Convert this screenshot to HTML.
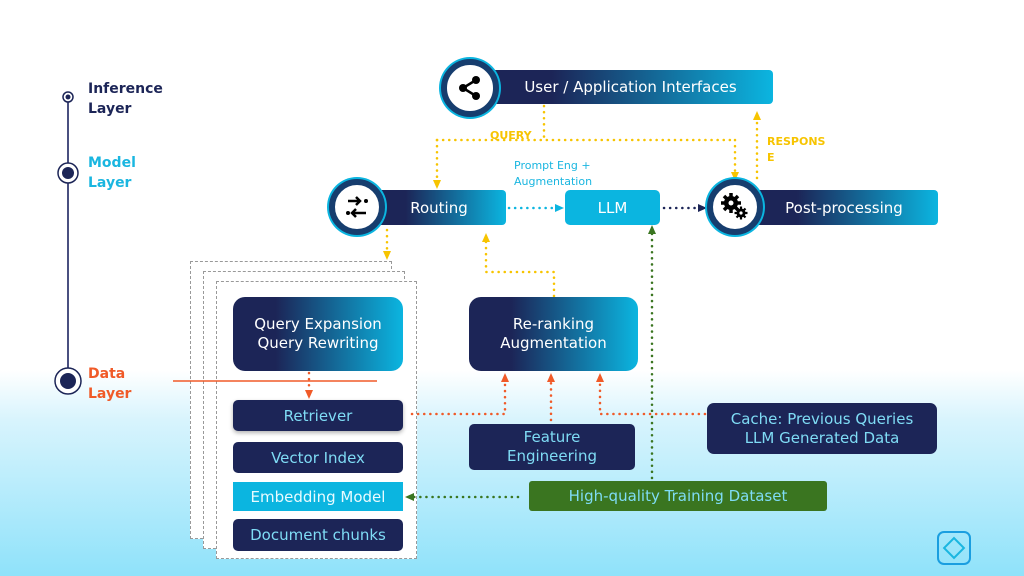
<!DOCTYPE html>
<html><head><meta charset="utf-8"><style>
body{margin:0;width:1024px;height:576px;overflow:hidden;font-family:"DejaVu Sans","Liberation Sans",sans-serif;}
.bg{position:absolute;left:0;top:0;width:1024px;height:576px;background:linear-gradient(to bottom,#fff 0,#fff 370px,#d8f4fd 420px,#8fe2fa 576px);}
.a{position:absolute;box-sizing:border-box;display:flex;align-items:center;justify-content:center;text-align:center;}
.g{background:linear-gradient(to right,#1c2557 0%,#1c2557 25%,#0bb5e0 100%);color:#fff;}
.n{background:#1c2557;color:#7fdcf5;border-radius:5px;font-size:15px;}
.lbl{position:absolute;font-weight:bold;font-size:14px;line-height:20px;}
.c{position:absolute;box-sizing:border-box;display:flex;align-items:center;justify-content:center;border-radius:50%;background:#fff;border:6px solid #163d6e;box-shadow:0 0 0 2px #0bb5e0;}
</style></head><body>
<div class="bg"></div>
<div style="position:absolute;left:190px;top:261px;width:200px;height:276px;border:1.5px dashed #999;background:#fff;"></div>
<div style="position:absolute;left:203px;top:271px;width:200px;height:276px;border:1.5px dashed #999;background:#fff;"></div>
<div style="position:absolute;left:216px;top:281px;width:199px;height:276px;border:1.5px dashed #999;background:#fff;"></div>

<svg width="1024" height="576" style="position:absolute;left:0;top:0">
<defs>
<marker id="ay" markerUnits="userSpaceOnUse" markerWidth="10" markerHeight="10" refX="5" refY="5" orient="auto"><path d="M1,1L10,5L1,9z" fill="#f7c400"/></marker>
<marker id="ao" markerUnits="userSpaceOnUse" markerWidth="10" markerHeight="10" refX="5" refY="5" orient="auto"><path d="M1,1L10,5L1,9z" fill="#f05a28"/></marker>
<marker id="ag" markerUnits="userSpaceOnUse" markerWidth="10" markerHeight="10" refX="5" refY="5" orient="auto"><path d="M1,1L10,5L1,9z" fill="#3a7520"/></marker>
<marker id="ac" markerUnits="userSpaceOnUse" markerWidth="10" markerHeight="10" refX="5" refY="5" orient="auto"><path d="M1,1L10,5L1,9z" fill="#0bb5e0"/></marker>
<marker id="an" markerUnits="userSpaceOnUse" markerWidth="10" markerHeight="10" refX="5" refY="5" orient="auto"><path d="M1,1L10,5L1,9z" fill="#1c2557"/></marker>
</defs>
<line x1="68" y1="97" x2="68" y2="381" stroke="#4a5080" stroke-width="2"/>
<circle cx="68" cy="97" r="5" fill="#fff" stroke="#1c2557" stroke-width="1.5"/><circle cx="68" cy="97" r="2.5" fill="#1c2557"/>
<circle cx="68" cy="173" r="10" fill="#fff" stroke="#1c2557" stroke-width="1.5"/><circle cx="68" cy="173" r="6" fill="#1c2557"/>
<circle cx="68" cy="381" r="13" fill="#fff" stroke="#1c2557" stroke-width="1.5"/><circle cx="68" cy="381" r="8" fill="#1c2557"/>
<line x1="173" y1="381" x2="377" y2="381" stroke="#f05a28" stroke-width="1.5"/>
<g fill="none" stroke-width="2.5" stroke-dasharray="0.1 6" stroke-linecap="round">
<path d="M544,106V140M437,140H735" stroke="#f7c400"/>
<path d="M437,140V184" stroke="#f7c400" marker-end="url(#ay)"/>
<path d="M735,140V176" stroke="#f7c400" marker-end="url(#ay)"/>
<path d="M757,178V116" stroke="#f7c400" marker-end="url(#ay)"/>
<path d="M387,230V255" stroke="#f7c400" marker-end="url(#ay)"/>
<path d="M554,296V272H486V238" stroke="#f7c400" marker-end="url(#ay)"/>
<path d="M509,208H559" stroke="#0bb5e0" marker-end="url(#ac)"/>
<path d="M664,208H702" stroke="#1c2557" marker-end="url(#an)"/>
<path d="M652,478V230" stroke="#3a7520" marker-end="url(#ag)"/>
<path d="M518,497H410" stroke="#3a7520" marker-end="url(#ag)"/>
<path d="M309,373V394" stroke="#f05a28" marker-end="url(#ao)"/>
<path d="M412,414H505V378" stroke="#f05a28" marker-end="url(#ao)"/>
<path d="M551,420V378" stroke="#f05a28" marker-end="url(#ao)"/>
<path d="M705,414H600V378" stroke="#f05a28" marker-end="url(#ao)"/>
</g>
</svg>

<div class="lbl" style="left:88px;top:79px;color:#1c2557">Inference<br>Layer</div>
<div class="lbl" style="left:88px;top:153px;color:#1ab6e0">Model<br>Layer</div>
<div class="lbl" style="left:88px;top:364px;color:#f05a28">Data<br>Layer</div>
<div style="position:absolute;left:490px;top:129px;color:#f7c400;font-weight:bold;font-size:11px;">QUERY</div>
<div style="position:absolute;left:767px;top:134px;color:#f7c400;font-weight:bold;font-size:11px;line-height:16px;">RESPONS<br>E</div>
<div style="position:absolute;left:514px;top:158px;color:#1ab6e0;font-size:11px;line-height:16px;">Prompt Eng +<br>Augmentation</div>

<div class="a g" style="left:478px;top:70px;width:295px;height:34px;border-radius:4px;font-size:15px;padding-left:10px;">User / Application Interfaces</div>
<div class="a g" style="left:372px;top:190px;width:134px;height:35px;border-radius:4px;font-size:15px;">Routing</div>
<div class="a" style="left:565px;top:190px;width:95px;height:35px;border-radius:5px;background:#0bb5e0;color:#fff;font-size:15px;">LLM</div>
<div class="a g" style="left:750px;top:190px;width:188px;height:35px;border-radius:4px;font-size:15px;">Post-processing</div>

<div class="c" style="left:441px;top:59px;width:58px;height:58px;">
<svg width="26" height="26" viewBox="0 0 26 26"><circle cx="19" cy="5" r="4"/><circle cx="6" cy="13" r="4"/><circle cx="19" cy="21" r="4"/><path d="M19,5L6,13L19,21" stroke="#000" stroke-width="2.5" fill="none"/></svg></div>
<div class="c" style="left:329px;top:179px;width:56px;height:56px;">
<svg width="26" height="24" viewBox="0 0 26 24"><path d="M4,6H16M12,2L16,6L12,10M22,18H8M12,14L8,18L12,22" stroke="#000" stroke-width="2.5" fill="none"/><circle cx="22" cy="6" r="2"/><circle cx="4" cy="18" r="2"/></svg></div>
<div class="c" style="left:707px;top:179px;width:56px;height:56px;">
<svg width="30" height="30" viewBox="0 0 30 30">
<g fill="#000"><circle cx="11" cy="11" r="7"/><g stroke="#000" stroke-width="3.5"><path d="M11,1V21M1,11H21M4,4L18,18M18,4L4,18"/></g><circle cx="11" cy="11" r="2.5" fill="#fff"/>
<circle cx="21" cy="21" r="4.5"/><g stroke="#000" stroke-width="2.2"><path d="M21,14.5V27.5M14.5,21H27.5M16.5,16.5L25.5,25.5M25.5,16.5L16.5,25.5"/></g><circle cx="21" cy="21" r="1.6" fill="#fff"/></g></svg></div>

<div class="a g" style="left:233px;top:297px;width:170px;height:74px;border-radius:12px;font-size:15px;line-height:19px;">Query Expansion<br>Query Rewriting</div>
<div class="a g" style="left:469px;top:297px;width:169px;height:74px;border-radius:12px;font-size:15px;line-height:19px;">Re-ranking<br>Augmentation</div>

<div class="a n" style="left:233px;top:400px;width:170px;height:31px;box-shadow:0 2px 4px rgba(0,0,0,.3)">Retriever</div>
<div class="a n" style="left:233px;top:442px;width:170px;height:31px;">Vector Index</div>
<div class="a" style="left:233px;top:482px;width:170px;height:29px;background:#0bb5e0;color:#e8fbff;font-size:15px;">Embedding Model</div>
<div class="a n" style="left:233px;top:519px;width:170px;height:32px;">Document chunks</div>
<div class="a n" style="left:469px;top:424px;width:166px;height:46px;line-height:19px;">Feature<br>Engineering</div>
<div class="a n" style="left:707px;top:403px;width:230px;height:51px;line-height:19px;border-radius:7px;">Cache: Previous Queries<br>LLM Generated Data</div>
<div class="a" style="left:529px;top:481px;width:298px;height:30px;background:#3a7520;color:#7fdcf5;border-radius:3px;font-size:15px;">High-quality Training Dataset</div>

<div style="position:absolute;left:937px;top:531px;width:30px;height:30px;border:2.5px solid #1a9ee0;border-radius:7px;"></div>
<div style="position:absolute;left:946px;top:540px;width:12px;height:12px;border:2.5px solid #1ab6e0;transform:rotate(45deg);"></div>
</body></html>
